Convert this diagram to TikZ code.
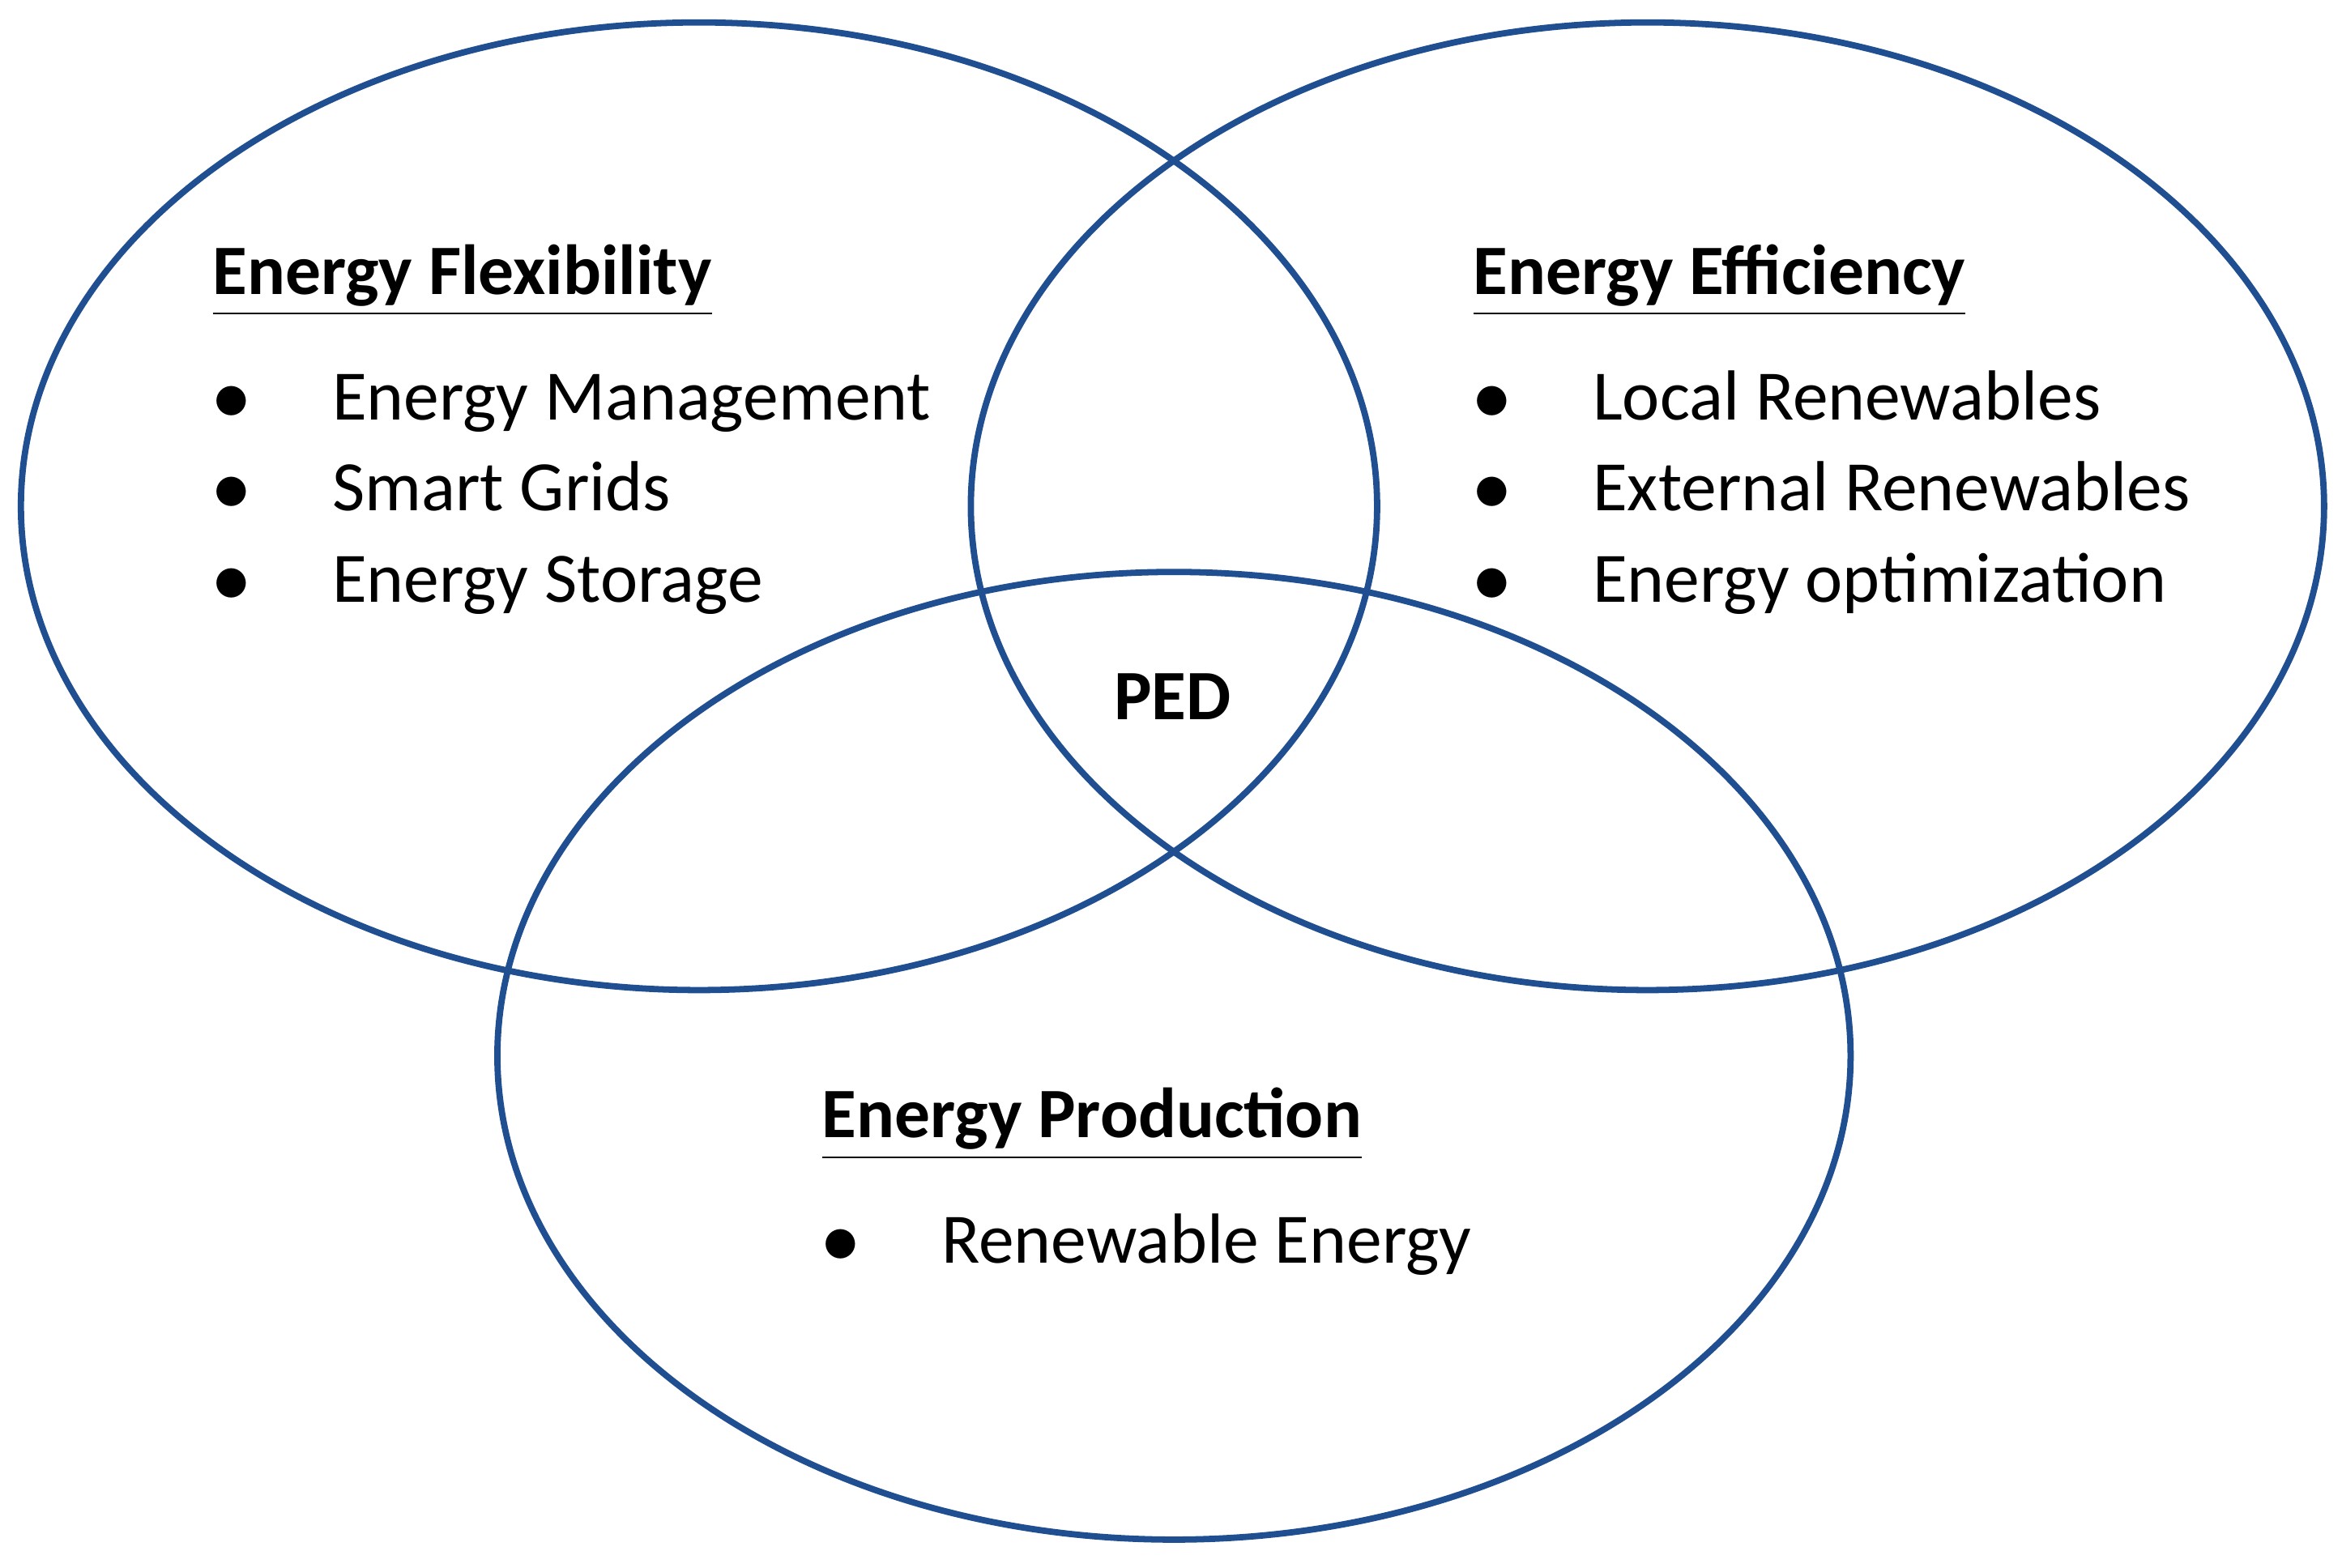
\documentclass[tikz,border=0pt]{standalone}
\usepackage{fontspec}
\setmainfont{Carlito}
\definecolor{eblue}{RGB}{31,78,145}
\begin{document}
\begin{tikzpicture}[x=0.01cm,y=-0.01cm,
  ring/.style={draw=eblue,line width=1.2pt},
  head/.style={anchor=base west,font=\fontsize{13.5}{16}\selectfont\bfseries},
  item/.style={anchor=base west,font=\fontsize{13.5}{16}\selectfont},
  dot/.style={anchor=base west,font=\fontsize{13.5}{16}\selectfont}]
\useasboundingbox (0,0) rectangle (1568,1050);
\draw[ring] (468,339) ellipse [x radius=454,y radius=324];
\draw[ring] (1103,339) ellipse [x radius=453,y radius=324];
\draw[ring] (786,707) ellipse [x radius=453,y radius=324];
\node[head] (hf) at (130,197) {\underline{Energy Flexibility}};
\node[dot] (d1) at (130,281) {$\bullet$};
\node[dot] (d2) at (130,342) {$\bullet$};
\node[dot] (d3) at (130,403) {$\bullet$};
\node[item] (f1) at (210,281) {Energy Management};
\node[item] (f2) at (210,342) {Smart Grids};
\node[item] (f3) at (210,403) {Energy Storage};
\node[head] (he) at (974,197) {\underline{Energy Efficiency}};
\node[dot] (e1d) at (974,281) {$\bullet$};
\node[dot] (e2d) at (974,342) {$\bullet$};
\node[dot] (e3d) at (974,403) {$\bullet$};
\node[item] (e1) at (1054,281) {Local Renewables};
\node[item] (e2) at (1054,342) {External Renewables};
\node[item] (e3) at (1054,403) {Energy optimization};
\node[head] (hp) at (538,762) {\underline{Energy Production}};
\node[dot] (p1d) at (538,846) {$\bullet$};
\node[item] (p1) at (618,846) {Renewable Energy};
\node[head,anchor=base] (ped) at (785,482) {PED};
\end{tikzpicture}
\end{document}
